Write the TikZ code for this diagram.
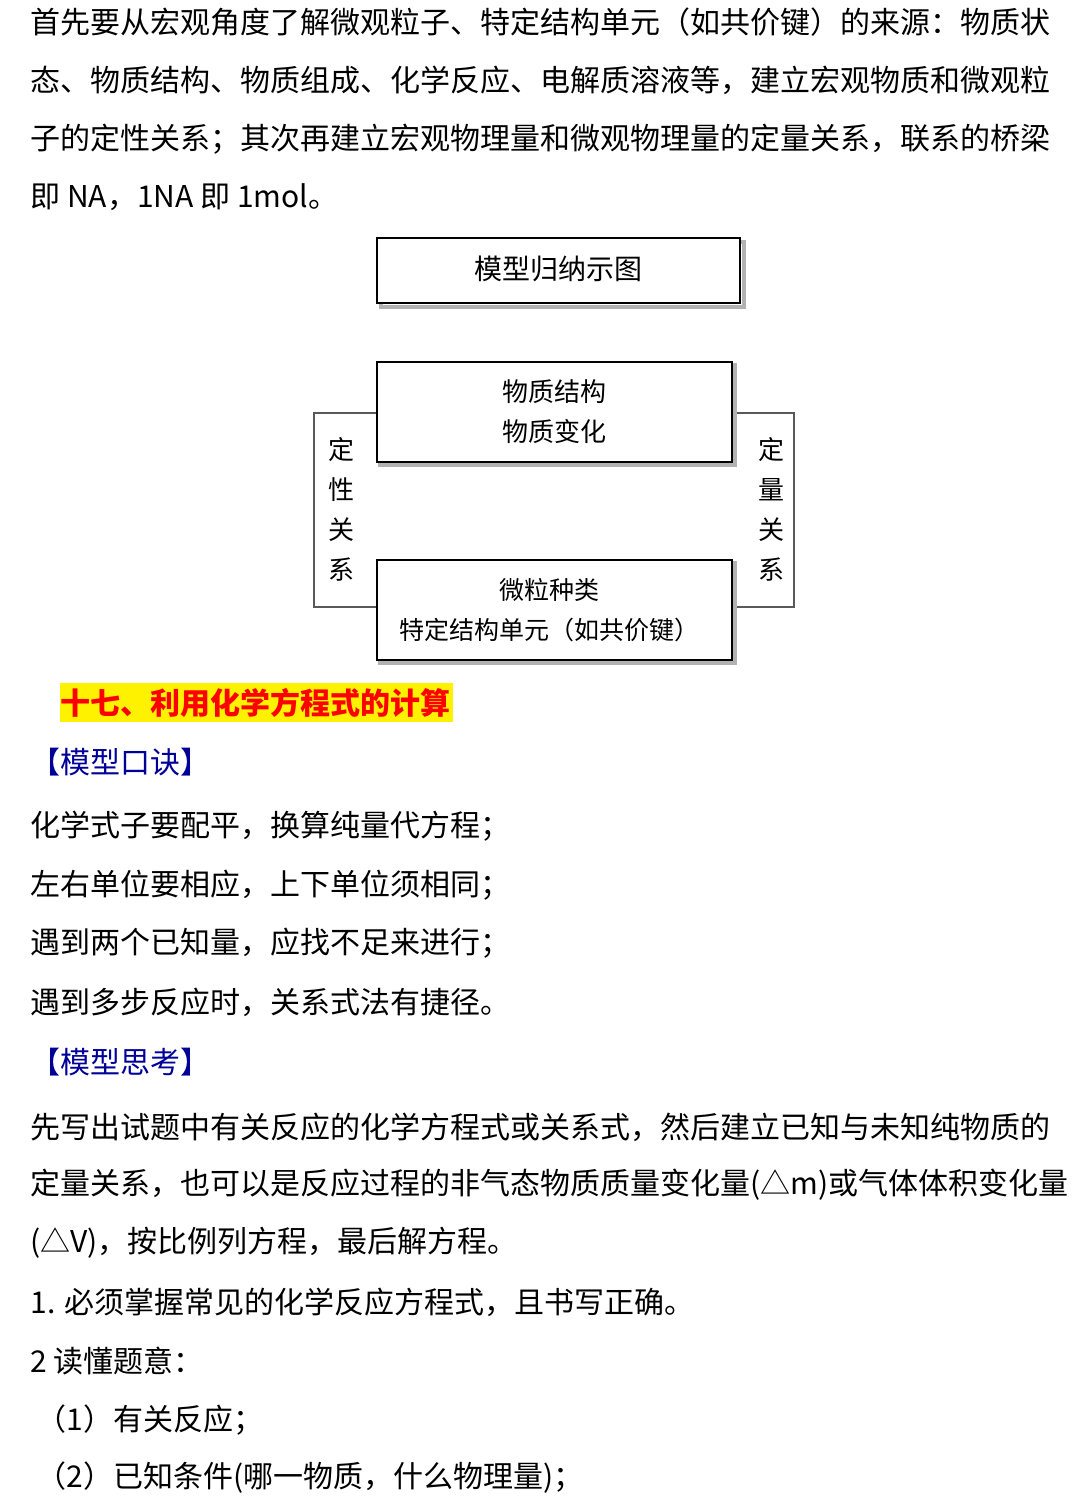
\documentclass[tikz,border=0pt]{standalone}
\usepackage{fontspec}
\setmainfont{Noto Sans CJK SC}
\tikzset{
  body/.style={anchor=west, inner sep=0pt, font=\fontsize{15}{15}\selectfont},
  box/.style={draw, thick, inner sep=0pt, font=\fontsize{13}{13}\selectfont},
  tag/.style={anchor=west, inner sep=0pt, text=blue!60!black, font=\fontsize{15}{15}\selectfont},
}
\begin{document}
\begin{tikzpicture}[x=0.5pt,y=-0.5pt]
    \useasboundingbox (0,0) rectangle (1080,1508);
    % First paragraph
    \node[body] (p1) at (30,22) {首先要从宏观角度了解微观粒子、特定结构单元（如共价键）的来源：物质状};
    \node[body] (p2) at (30,80) {态、物质结构、物质组成、化学反应、电解质溶液等，建立宏观物质和微观粒};
    \node[body] (p3) at (30,139) {子的定性关系；其次再建立宏观物理量和微观物理量的定量关系，联系的桥梁};
    \node[body] (p4) at (30,197) {即 NA，1NA 即 1mol。};

    % Title box
    \draw[gray!60, line width=2pt] (381,242) rectangle (744,307);
    \draw[thick, fill=white] (377,238) rectangle (740,303);
    \node[font=\fontsize{14}{14}\selectfont] (title) at (558,269) {模型归纳示图};

    % Brackets
    \draw[thick, gray!70!black] (377,413) -- (314,413) -- (314,607) -- (377,607);
    \draw[thick, gray!70!black] (732,413) -- (794,413) -- (794,607) -- (732,607);
    \node[align=center, font=\fontsize{13}{20}\selectfont] (left) at (341,509) {定\\性\\关\\系};
    \node[align=center, font=\fontsize{13}{20}\selectfont] (right) at (771,509) {定\\量\\关\\系};

    % Upper and lower boxes
    \draw[gray!60, line width=2pt] (380,365) rectangle (735,465);
    \draw[thick, fill=white] (377,362) rectangle (732,462);
    \node[align=center, font=\fontsize{13}{20}\selectfont] (upper) at (554,412) {物质结构\\物质变化};
    \draw[gray!60, line width=2pt] (380,563) rectangle (735,663);
    \draw[thick, fill=white] (377,560) rectangle (732,660);
    \node[align=center, font=\fontsize{12.5}{20}\selectfont] (lower) at (549,610) {微粒种类\\特定结构单元（如共价键）};

    % Heading
    \fill[yellow] (60,683) rectangle (453,722);
    \node[body, text=red, font=\fontsize{15}{15}\bfseries\selectfont] (head) at (60,703) {十七、利用化学方程式的计算};

    \node[tag] (t1) at (30,762) {【模型口诀】};
    \node[body] (k1) at (30,826) {化学式子要配平，换算纯量代方程；};
    \node[body] (k2) at (30,885) {左右单位要相应，上下单位须相同；};
    \node[body] (k3) at (30,943) {遇到两个已知量，应找不足来进行；};
    \node[body] (k4) at (30,1002) {遇到多步反应时，关系式法有捷径。};

    \node[tag] (t2) at (30,1062) {【模型思考】};
    \node[body] (s1) at (30,1127) {先写出试题中有关反应的化学方程式或关系式，然后建立已知与未知纯物质的};
    \node[body] (s2) at (30,1185) {定量关系，也可以是反应过程的非气态物质质量变化量(△m)或气体体积变化量};
    \node[body] (s3) at (30,1243) {(△V)，按比例列方程，最后解方程。};
    \node[body] (s4) at (30,1302) {1. 必须掌握常见的化学反应方程式，且书写正确。};
    \node[body] (s5) at (30,1361) {2 读懂题意：};
    \node[body] (s6) at (36,1420) {（1）有关反应；};
    \node[body] (s7) at (36,1478) {（2）已知条件(哪一物质，什么物理量)；};
\end{tikzpicture}
\end{document}
